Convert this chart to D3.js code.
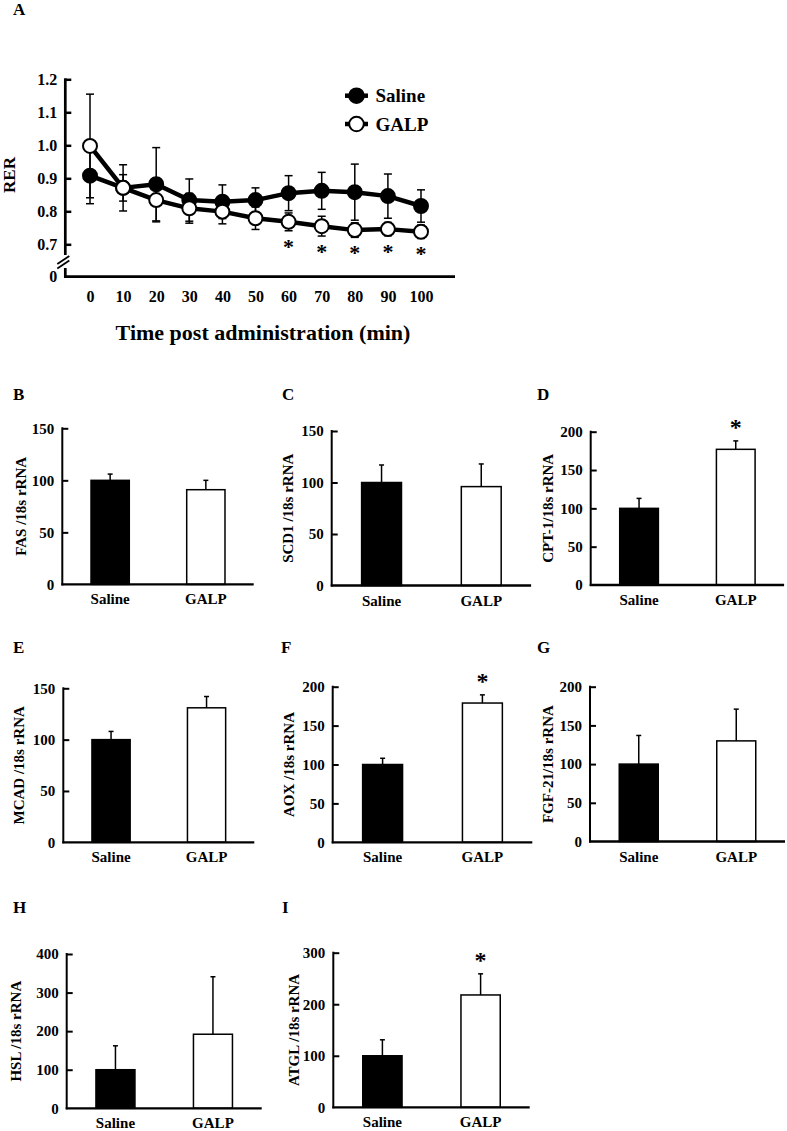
<!DOCTYPE html>
<html>
<head>
<meta charset="utf-8">
<script src="https://cdn.jsdelivr.net/npm/d3@7/dist/d3.min.js"></script>
<style>
  html, body { margin: 0; padding: 0; background: #fff; }
  svg { display: block; }
  text { font-family: "Liberation Serif", "Times New Roman", serif; font-weight: bold; fill: #000; }
</style>
</head>
<body>
<svg id="chart" width="787" height="1131"></svg>
<script>
// ---------- Panel A data ----------
const timePoints = [0, 10, 20, 30, 40, 50, 60, 70, 80, 90, 100];
const salineRER  = [0.908, 0.871, 0.882, 0.834, 0.829, 0.834, 0.855, 0.862, 0.858, 0.846, 0.816];
const salineErr  = [0.085, 0.070, 0.111, 0.064, 0.051, 0.037, 0.053, 0.056, 0.085, 0.067, 0.049];
const galpRER    = [0.998, 0.871, 0.834, 0.809, 0.799, 0.779, 0.768, 0.755, 0.743, 0.746, 0.738];
const galpErr    = [0.157, 0.040, 0.066, 0.045, 0.037, 0.034, 0.027, 0.030, 0.022, 0.020, 0.020];
const rerTicks   = [0.7, 0.8, 0.9, 1.0, 1.1, 1.2];
const sigTimes   = [60, 70, 80, 90, 100];
const seriesNames = ["Saline", "GALP"];

// ---------- Panels B–I data ----------
const barGroups    = ["Saline", "GALP"];
const panelLetters = ["B", "C", "D", "E", "F", "G", "H", "I"];
const geneLabels   = ["FAS /18s rRNA", "SCD1 /18s rRNA", "CPT-1/18s rRNA", "MCAD /18s rRNA",
                      "AOX /18s rRNA", "FGF-21/18s rRNA", "HSL /18s rRNA", "ATGL /18s rRNA"];
const salineMeans  = [100, 100, 100, 100, 100, 100, 100, 100];
const salineSEM    = [6, 17, 13, 8, 8, 37, 62, 31];
const galpMeans    = [91, 96, 177, 131, 179, 130, 192, 218];
const galpSEM      = [9, 22, 11, 11, 10.5, 41, 149, 41];
const yMaxes       = [150, 150, 200, 150, 200, 200, 400, 300];
const yTickSteps   = [50, 50, 50, 50, 50, 50, 100, 100];
const significant  = [false, false, true, false, true, false, false, true];

// ---------- Layout (positions only) ----------
const layout = [
  {ax: 62.3,  w: 191.4, y0: 584.4,  yTop: 428.3, lx: 13,  ly: 400, labOff: 42},
  {ax: 331.7, w: 199.4, y0: 585.5,  yTop: 431.0, lx: 282, ly: 400, labOff: 43.5},
  {ax: 590.7, w: 193.4, y0: 585.0,  yTop: 431.7, lx: 537, ly: 400, labOff: 42.5},
  {ax: 63.3,  w: 191.0, y0: 842.3,  yTop: 688.3, lx: 13,  ly: 653, labOff: 45},
  {ax: 332.7, w: 199.6, y0: 842.3,  yTop: 686.7, lx: 281, ly: 653, labOff: 43.5},
  {ax: 590.0, w: 195.0, y0: 841.5,  yTop: 686.7, lx: 537, ly: 653, labOff: 42},
  {ax: 66.7,  w: 195.0, y0: 1108.3, yTop: 954.0, lx: 13,  ly: 913, labOff: 50.5},
  {ax: 333.3, w: 196.4, y0: 1107.3, yTop: 952.7, lx: 282, ly: 913, labOff: 40}
];

const svg = d3.select("#chart");
svg.append("rect").attr("width", 787).attr("height", 1131).attr("fill", "#fff");

// ================= Panel A =================
(function panelA() {
  const g = svg.append("g");
  const x = d3.scaleLinear().domain([0, 100]).range([90, 421]);
  const y = d3.scaleLinear().domain([0.7, 1.2]).range([244.3, 79.3]);
  const axisX = 65.3, baseY = 276.7, breakTop = 255, breakBot = 268;

  g.append("text").attr("x", 13).attr("y", 15).attr("font-size", 17).text("A");

  const yAxis = d3.axisLeft(y).tickValues(rerTicks).tickFormat(d3.format(".1f"))
    .tickSize(-6).tickPadding(8);
  const ya = g.append("g").attr("transform", `translate(${axisX},0)`).call(yAxis);
  ya.select(".domain").remove();
  ya.selectAll(".tick line").attr("stroke", "#000").attr("stroke-width", 2.5);
  ya.selectAll(".tick text").attr("font-size", 16).attr("font-family", "Liberation Serif")
    .attr("font-weight", "bold").attr("fill", "#000");
  g.append("line").attr("x1", axisX).attr("x2", axisX).attr("y1", y(1.2) - 1).attr("y2", breakTop)
    .attr("stroke", "#000").attr("stroke-width", 2.7);
  g.append("line").attr("x1", axisX).attr("x2", axisX).attr("y1", breakBot).attr("y2", baseY + 1.3)
    .attr("stroke", "#000").attr("stroke-width", 2.7);
  [[0, 0], [0, 4.5]].forEach(([dx, dy]) => {
    g.append("line").attr("x1", axisX - 8 + dx).attr("y1", breakTop + 9 + dy)
      .attr("x2", axisX + 4 + dx).attr("y2", breakTop + 1 + dy)
      .attr("stroke", "#000").attr("stroke-width", 1.8);
  });
  g.append("text").attr("x", axisX - 8).attr("y", baseY).attr("dy", "0.32em")
    .attr("text-anchor", "end").attr("font-size", 16).text("0");

  g.append("line").attr("x1", axisX - 1.3).attr("x2", 455).attr("y1", baseY).attr("y2", baseY)
    .attr("stroke", "#000").attr("stroke-width", 2.7);
  const xAxis = d3.axisBottom(x).tickValues(timePoints).tickSize(0).tickFormat(d3.format("d"));
  const xa = g.append("g").attr("transform", `translate(0,${baseY})`).call(xAxis);
  xa.select(".domain").remove();
  xa.selectAll(".tick text").attr("y", 25.5).attr("dy", null).attr("font-size", 16)
    .attr("font-family", "Liberation Serif").attr("font-weight", "bold").attr("fill", "#000");

  g.append("text").attr("x", 263).attr("y", 339.5).attr("text-anchor", "middle")
    .attr("font-size", 22).text("Time post administration (min)");
  g.append("text").attr("transform", `translate(15,175) rotate(-90)`)
    .attr("text-anchor", "middle").attr("font-size", 17).text("RER");

  const series = [
    {name: seriesNames[0], vals: salineRER, err: salineErr, fill: "#000"},
    {name: seriesNames[1], vals: galpRER, err: galpErr, fill: "#fff"}
  ];
  const line = d3.line().x((d, i) => x(timePoints[i])).y(d => y(d));
  series.forEach(s => {
    g.append("path").datum(s.vals).attr("d", line).attr("fill", "none")
      .attr("stroke", "#000").attr("stroke-width", 4.5).attr("stroke-linejoin", "round");
  });
  series.forEach(s => {
    const eg = g.append("g").attr("stroke", "#000").attr("stroke-width", 1.5);
    s.vals.forEach((v, i) => {
      const cx = x(timePoints[i]);
      const hi = y(v + s.err[i]), lo = y(v - s.err[i]);
      eg.append("line").attr("x1", cx).attr("x2", cx).attr("y1", hi).attr("y2", lo);
      eg.append("line").attr("x1", cx - 4).attr("x2", cx + 4).attr("y1", hi).attr("y2", hi);
      eg.append("line").attr("x1", cx - 4).attr("x2", cx + 4).attr("y1", lo).attr("y2", lo);
    });
  });
  series.forEach(s => {
    g.append("g").selectAll("circle").data(s.vals).join("circle")
      .attr("cx", (d, i) => x(timePoints[i])).attr("cy", d => y(d)).attr("r", 7)
      .attr("fill", s.fill).attr("stroke", "#000").attr("stroke-width", 2);
  });
  sigTimes.forEach(t => {
    const i = timePoints.indexOf(t);
    const lo = y(galpRER[i] - galpErr[i]);
    g.append("text").attr("x", x(t)).attr("y", lo + 23).attr("text-anchor", "middle")
      .attr("font-size", 22).attr("font-weight", "normal").text("*");
  });
  series.forEach((s, k) => {
    const ly = 95.7 + k * 28.3;
    g.append("line").attr("x1", 345).attr("x2", 368).attr("y1", ly).attr("y2", ly)
      .attr("stroke", "#000").attr("stroke-width", 4.5);
    g.append("circle").attr("cx", 356.5).attr("cy", ly).attr("r", 7.3)
      .attr("fill", s.fill).attr("stroke", "#000").attr("stroke-width", 2);
    g.append("text").attr("x", 375.5).attr("y", ly + 6.5).attr("font-size", 19).text(s.name);
  });
})();

// ================= Panels B–I =================
panelLetters.forEach((letter, p) => {
  const L = layout[p];
  const g = svg.append("g");
  const y = d3.scaleLinear().domain([0, yMaxes[p]]).range([L.y0, L.yTop]);
  const x = d3.scaleBand().domain(barGroups).range([L.ax, L.ax + L.w])
    .paddingInner(0.6).paddingOuter(0.3);
  const means = [salineMeans[p], galpMeans[p]];
  const sems = [salineSEM[p], galpSEM[p]];
  const fills = ["#000", "#fff"];

  g.append("text").attr("x", L.lx).attr("y", L.ly).attr("font-size", 17).text(letter);

  g.selectAll("rect.bar").data(barGroups).join("rect").attr("class", "bar")
    .attr("x", d => x(d)).attr("width", x.bandwidth())
    .attr("y", (d, i) => y(means[i])).attr("height", (d, i) => L.y0 - y(means[i]))
    .attr("fill", (d, i) => fills[i]).attr("stroke", "#000").attr("stroke-width", 1.5);
  barGroups.forEach((grp, i) => {
    const cx = x(grp) + x.bandwidth() / 2;
    const top = y(means[i] + sems[i]);
    g.append("line").attr("x1", cx).attr("x2", cx).attr("y1", y(means[i])).attr("y2", top)
      .attr("stroke", "#000").attr("stroke-width", 1.5);
    g.append("line").attr("x1", cx - 2.5).attr("x2", cx + 2.5).attr("y1", top).attr("y2", top)
      .attr("stroke", "#000").attr("stroke-width", 1.5);
    if (i === 1 && significant[p]) {
      g.append("text").attr("x", cx).attr("y", top - 5.5).attr("text-anchor", "middle")
        .attr("font-size", 24).attr("font-weight", "normal").text("*");
    }
  });

  const ticks = d3.range(0, yMaxes[p] + 1, yTickSteps[p]);
  const yAxis = d3.axisLeft(y).tickValues(ticks).tickSize(-6).tickPadding(8).tickSizeOuter(0)
    .tickFormat(d3.format("d"));
  const ya = g.append("g").attr("transform", `translate(${L.ax},0)`).call(yAxis);
  ya.select(".domain").remove();
  ya.selectAll(".tick line").attr("stroke", "#000").attr("stroke-width", 2);
  ya.selectAll(".tick").filter(d => d === 0).select("line").remove();
  ya.selectAll(".tick text").attr("font-size", 15).attr("font-family", "Liberation Serif")
    .attr("font-weight", "bold").attr("fill", "#000");
  g.append("line").attr("x1", L.ax).attr("x2", L.ax).attr("y1", L.yTop - 1).attr("y2", L.y0 + 1)
    .attr("stroke", "#000").attr("stroke-width", 2);

  g.append("line").attr("x1", L.ax - 1).attr("x2", L.ax + L.w).attr("y1", L.y0).attr("y2", L.y0)
    .attr("stroke", "#000").attr("stroke-width", 2.3);
  const xAxis = d3.axisBottom(x).tickSize(0);
  const xa = g.append("g").attr("transform", `translate(0,${L.y0})`).call(xAxis);
  xa.select(".domain").remove();
  xa.selectAll(".tick text").attr("y", 20).attr("dy", null).attr("font-size", 15)
    .attr("font-family", "Liberation Serif").attr("font-weight", "bold").attr("fill", "#000");

  const midY = (L.y0 + L.yTop) / 2;
  g.append("text").attr("transform", `translate(${L.ax - L.labOff},${midY}) rotate(-90)`)
    .attr("text-anchor", "middle").attr("dy", "0.35em").attr("font-size", 15).text(geneLabels[p]);
});
</script>
</body>
</html>
